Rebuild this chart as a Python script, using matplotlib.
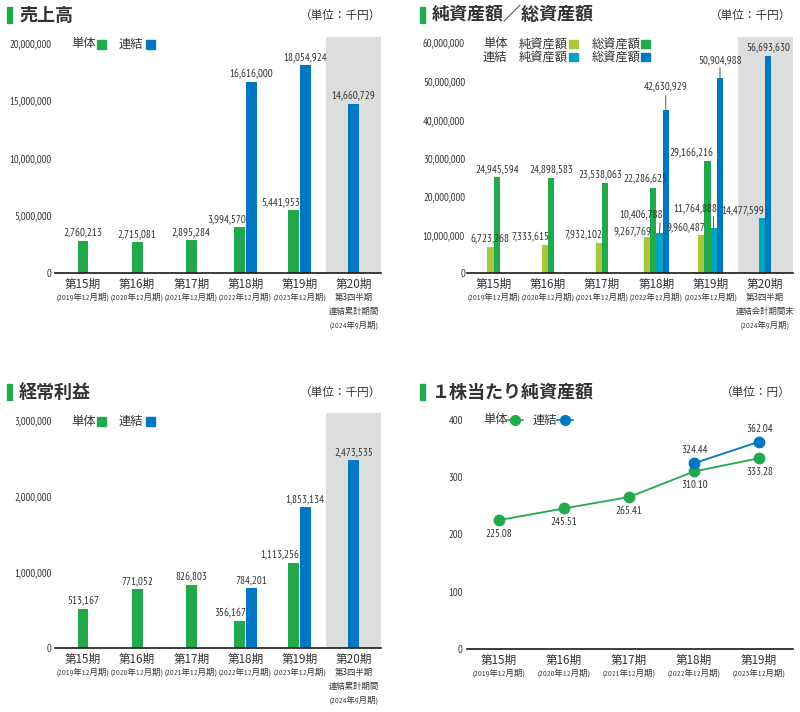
import matplotlib
matplotlib.use('Agg')
import matplotlib.pyplot as plt
from matplotlib import font_manager
from matplotlib.patches import Rectangle
from matplotlib.lines import Line2D

# ---- data ----
periods = ['第15期', '第16期', '第17期', '第18期', '第19期', '第20期']
period_notes = ['(2019年12月期)', '(2020年12月期)', '(2021年12月期)',
                '(2022年12月期)', '(2023年12月期)']
note_20_cumulative = ['第3四半期', '連結累計期間', '(2024年9月期)']
note_20_period_end = ['第3四半期', '連結会計期間末', '(2024年9月期)']

sales_single = [2760213, 2715081, 2895284, 3994570, 5441953, None]
sales_consol = [None, None, None, 16616000, 18054924, 14660729]

ordinary_single = [513167, 771052, 826803, 356167, 1113256, None]
ordinary_consol = [None, None, None, 784201, 1853134, 2473535]

net_assets_single = [6723268, 7333615, 7932102, 9267769, 9960487, None]
total_assets_single = [24945594, 24898583, 23538063, 22286625, 29166216, None]
net_assets_consol = [None, None, None, 10406788, 11764888, 14477599]
total_assets_consol = [None, None, None, 42630929, 50904988, 56693630]

bps_single = [225.08, 245.51, 265.41, 310.10, 333.28]
bps_consol = [None, None, None, 324.44, 362.04]

# ---- style ----
GREEN = '#22a94b'
BLUE = '#0077c3'
YGREEN = '#a6c83a'
TEAL = '#00a5c0'
SHADE = '#dcdddd'
TEXT = '#333333'
AXIS = '#231815'

# pick a narrow face for the figures, the original uses a condensed gothic
installed = {f.name for f in font_manager.fontManager.ttflist}
narrow = 'DejaVu Sans'
for cand in ['Liberation Sans Narrow', 'PT Sans Narrow', 'Archivo Narrow', 'Roboto Condensed',
             'Fira Sans Condensed', 'IBM Plex Sans Condensed', 'Encode Sans Condensed',
             'Open Sans Condensed', 'Barlow Semi Condensed']:
    if cand in installed:
        narrow = cand
        break

JP = ['Noto Sans CJK JP', 'DejaVu Sans']
NUM = [narrow, 'Noto Sans CJK JP', 'DejaVu Sans']

W, H = 800, 712
fig = plt.figure(figsize=(W / 100, H / 100), dpi=100)
renderer = fig.canvas.get_renderer()


def fit_size(text, family, width_px, cap):
    t = fig.text(0, 0, text, fontfamily=family, fontsize=10)
    w = t.get_window_extent(renderer).width
    t.remove()
    return min(cap, 10 * width_px / w)


NUM_FS = fit_size('20,000,000', NUM, 42, 8.2)
NOTE_FS = fit_size('(2019年12月期)', NUM, 52, 6.5)


def fx(x):
    return x / W


def fy(y):
    return 1 - y / H


def make_axes(left, right, top, bottom):
    ax = fig.add_axes([fx(left), fy(bottom), (right - left) / W, (bottom - top) / H])
    for s in ['left', 'top', 'right']:
        ax.spines[s].set_visible(False)
    ax.spines['bottom'].set_color(AXIS)
    ax.spines['bottom'].set_linewidth(1.2)
    ax.set_xticks([])
    ax.patch.set_alpha(0)
    return ax


def y_ticks(ax, ticks, fmt, pad):
    ax.set_yticks(ticks)
    ax.set_yticklabels([fmt(t) for t in ticks], fontfamily=NUM, fontsize=NUM_FS, color=TEXT)
    ax.tick_params(axis='y', length=0, pad=pad)


def x_labels(ax, n, last_note=None):
    for i in range(n):
        ax.annotate(periods[i], xy=(i, 0), xytext=(0, -11), textcoords='offset pixels',
                    ha='center', va='center', fontfamily=JP, fontsize=8.4, color=TEXT,
                    annotation_clip=False)
        lines = [period_notes[i]] if i < len(period_notes) else last_note
        for j, line in enumerate(lines):
            small = line.startswith('(')
            ax.annotate(line, xy=(i, 0), xytext=(0, -24 - 14 * j), textcoords='offset pixels',
                        ha='center', va='center', fontfamily=NUM if small else JP,
                        fontsize=NOTE_FS if small else 6.0, color=TEXT, annotation_clip=False)


def title(x, y, text, unit, unit_right):
    fig.patches.append(Rectangle((fx(x), fy(y + 8)), 5 / W, 16 / H, color=GREEN,
                                 transform=fig.transFigure, figure=fig))
    fig.text(fx(x + 12), fy(y), text, fontfamily=JP, fontsize=13, fontweight='bold',
             color=TEXT, ha='left', va='center')
    fig.text(fx(unit_right), fy(y), unit, fontfamily=JP, fontsize=8.4, color=TEXT,
             ha='right', va='center')


def square(x, y, color, size=9):
    fig.patches.append(Rectangle((fx(x), fy(y + size / 2)), size / W, size / H, color=color,
                                 transform=fig.transFigure, figure=fig))


def legend_text(x, y, text):
    fig.text(fx(x), fy(y), text, fontfamily=JP, fontsize=8.8, color=TEXT,
             ha='left', va='center')


def label(ax, x, y, text, dx=0, dy=3, ha='center', lead=None):
    kw = {}
    if lead is not None:
        kw['arrowprops'] = dict(arrowstyle='-', lw=0.7, color='#555555',
                                shrinkA=0, shrinkB=0, relpos=(lead, 0))
    ax.annotate(text, xy=(x, y), xytext=(dx, dy), textcoords='offset pixels',
                ha=ha, va='bottom', fontfamily=NUM, fontsize=NUM_FS + 0.3, color=TEXT,
                annotation_clip=False, **kw)


def pair_bars(ax, single, consol, width=0.2, gap=0.11):
    for i, (s, c) in enumerate(zip(single, consol)):
        if s is not None and c is not None:
            xs, xc = i - gap, i + gap
        else:
            xs = xc = i
        if s is not None:
            ax.bar(xs, s, width=width, color=GREEN, zorder=2)
            if c is not None:
                label(ax, xs + width / 2, s, f'{s:,}', dx=1, ha='right')
            else:
                label(ax, xs, s, f'{s:,}')
        if c is not None:
            ax.bar(xc, c, width=width, color=BLUE, zorder=2)
            label(ax, xc, c, f'{c:,}')


# ---- 売上高 ----
ax1 = make_axes(55, 381, 37, 273)
ax1.axvspan(4.5, 5.6, color=SHADE, zorder=0, lw=0)
pair_bars(ax1, sales_single, sales_consol)
ax1.set_xlim(-0.518, 5.51)
ax1.set_ylim(0, 20520000)
y_ticks(ax1, [0, 5000000, 10000000, 15000000, 20000000], lambda v: f'{v:,}', 2.5)
x_labels(ax1, 6, note_20_cumulative)
title(7, 15, '売上高', '（単位：千円）', 381)
legend_text(71, 44, '単体')
square(97, 44, GREEN)
legend_text(119, 44, '連結')
square(146, 44, BLUE)

# ---- 純資産額／総資産額 ----
ax2 = make_axes(467, 793, 37, 273)
ax2.axvspan(4.5, 5.6, color=SHADE, zorder=0, lw=0)
bw = 0.116
series2 = [(net_assets_single, YGREEN), (total_assets_single, GREEN),
           (net_assets_consol, TEAL), (total_assets_consol, BLUE)]
# label placement per (series, period): (dx px, dy px, ha, leader relpos)
place2 = {
    (0, 1): (5, 3, 'right', None), (0, 2): (3, 3, 'right', None),
    (0, 3): (5, 0, 'right', None), (0, 4): (4, 2, 'right', None),
    (1, 2): (-5, 3, 'center', None), (1, 3): (-8, 3, 'center', None),
    (1, 4): (-16, 3, 'center', None),
    (2, 3): (-18, 13, 'center', 0.93), (2, 4): (-18, 14, 'center', 0.9),
    (2, 5): (2, 2, 'right', None),
    (3, 3): (0, 17, 'center', 0.5), (3, 4): (0, 13, 'center', 0.5),
}
for i in range(6):
    present = [k for k, (vals, _) in enumerate(series2) if vals[i] is not None]
    n = len(present)
    for j, k in enumerate(present):
        vals, col = series2[k]
        x = i + (j - (n - 1) / 2) * bw
        ax2.bar(x, vals[i], width=bw, color=col, zorder=2)
        dx, dy, ha, lead = place2.get((k, i), (0, 3, 'center', None))
        label(ax2, x, vals[i], f'{vals[i]:,}', dx=dx, dy=dy, ha=ha, lead=lead)
ax2.set_xlim(-0.49, 5.52)
ax2.set_ylim(0, 61570000)
y_ticks(ax2, [0, 10000000, 20000000, 30000000, 40000000, 50000000, 60000000],
        lambda v: f'{v:,}', 1.5)
x_labels(ax2, 6, note_20_period_end)
title(420, 15, '純資産額／総資産額', '（単位：千円）', 791)
for row, (name, c1, c2) in enumerate([('単体', YGREEN, GREEN), ('連結', TEAL, BLUE)]):
    yy = 44 + 13 * row
    legend_text(483, yy, name)
    legend_text(519, yy, '純資産額')
    square(569, yy, c1, 8.5)
    legend_text(592, yy, '総資産額')
    square(641, yy, c2, 8.5)

# ---- 経常利益 ----
ax3 = make_axes(55, 381, 413, 648)
ax3.axvspan(4.5, 5.6, color=SHADE, zorder=0, lw=0)
pair_bars(ax3, ordinary_single, ordinary_consol)
ax3.set_xlim(-0.518, 5.51)
ax3.set_ylim(0, 3092000)
y_ticks(ax3, [0, 1000000, 2000000, 3000000], lambda v: f'{v:,}', 2.5)
x_labels(ax3, 6, note_20_cumulative)
title(7, 392, '経常利益', '（単位：千円）', 381)
legend_text(71, 421, '単体')
square(97, 421, GREEN)
legend_text(119, 421, '連結')
square(146, 421, BLUE)

# ---- １株当たり純資産額 ----
ax4 = make_axes(467, 793, 413, 649)
xs = list(range(len(bps_single)))
ax4.plot(xs, bps_single, color=GREEN, lw=1.3, marker='o', ms=7.5, zorder=3)
cx = [x for x, v in zip(xs, bps_consol) if v is not None]
cv = [v for v in bps_consol if v is not None]
ax4.plot(cx, cv, color=BLUE, lw=1.3, marker='o', ms=7.5, zorder=3)
for x, v in zip(xs, bps_single):
    ax4.annotate(f'{v:.2f}', xy=(x, v), xytext=(0, -14), textcoords='offset pixels',
                 ha='center', va='center', fontfamily=NUM, fontsize=NUM_FS + 0.3, color=TEXT)
for x, v in zip(cx, cv):
    ax4.annotate(f'{v:.2f}', xy=(x, v), xytext=(0, 13), textcoords='offset pixels',
                 ha='center', va='center', fontfamily=NUM, fontsize=NUM_FS + 0.3, color=TEXT)
ax4.set_xlim(-0.49, 4.52)
ax4.set_ylim(0, 412.2)
y_ticks(ax4, [0, 100, 200, 300, 400], lambda v: f'{v:d}', 3)
x_labels(ax4, 5)
title(420, 392, '１株当たり純資産額', '（単位：円）', 791)
for lx, name, col in [(483, '単体', GREEN), (533, '連結', BLUE)]:
    legend_text(lx, 420, name)
    fig.add_artist(Line2D([fx(lx + 24), fx(lx + 40)], [fy(420), fy(420)], color=col,
                          lw=1.2, transform=fig.transFigure))
    fig.add_artist(Line2D([fx(lx + 32)], [fy(420)], color=col, marker='o', ms=7, lw=0,
                          transform=fig.transFigure))

fig.savefig('out.png', dpi=100)
